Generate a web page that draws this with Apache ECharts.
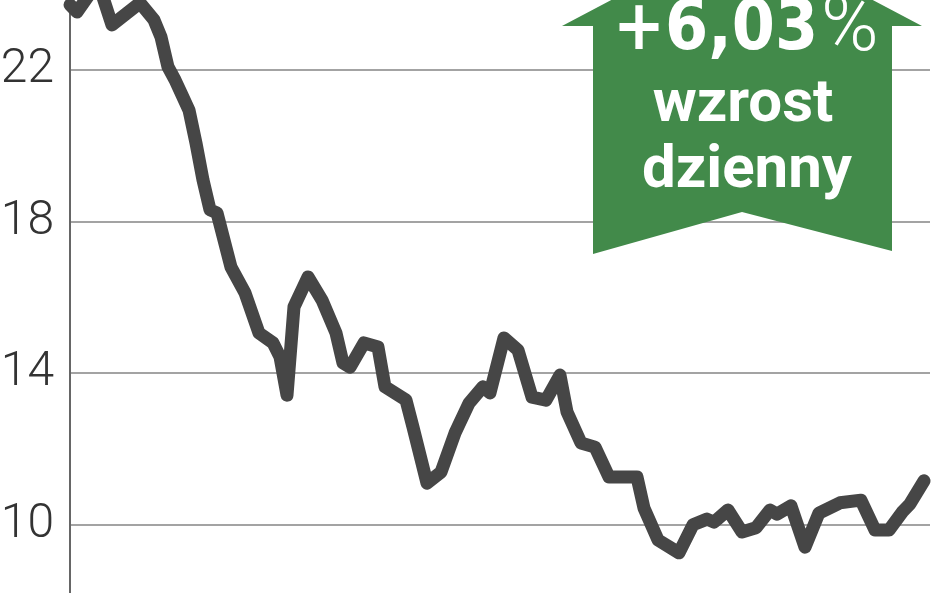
<!DOCTYPE html>
<html>
<head>
<meta charset="utf-8">
<script src="https://cdn.jsdelivr.net/npm/echarts@6/dist/echarts.min.js"></script>
<style>
  html, body { margin: 0; padding: 0; background: #fff; }
  #chart { width: 948px; height: 593px; }
</style>
</head>
<body>
<div id="chart"></div>
<script>
// trading session index (hidden x axis) and closing price
var sessions = [0, 1, 4, 6, 10, 12, 13, 14, 15, 16, 17, 18, 19, 20, 21, 23, 25, 27, 29, 30,
  31, 32, 34, 36, 38, 39, 40, 42, 44, 45, 48, 49, 51, 53, 55, 57, 59, 60, 62, 64,
  66, 68, 70, 71, 73, 75, 77, 81, 82, 84, 87, 89, 91, 92, 94, 96, 98, 100, 101, 103,
  105, 107, 110, 113, 115, 117, 119, 120, 122];
var prices = [23.72, 23.53, 24.32, 23.19, 23.77, 23.32, 22.87, 22.08, 21.74, 21.34, 20.94, 20.07, 19.10, 18.31, 18.23, 16.80, 16.12, 15.06, 14.80, 14.43,
  13.42, 15.75, 16.54, 15.93, 15.06, 14.27, 14.16, 14.80, 14.69, 13.64, 13.29, 12.58, 11.10, 11.39, 12.42, 13.21, 13.64, 13.48, 14.93, 14.61,
  13.37, 13.29, 13.95, 12.98, 12.16, 12.05, 11.26, 11.26, 10.44, 9.60, 9.26, 10.00, 10.15, 10.07, 10.39, 9.81, 9.92, 10.39, 10.28, 10.50,
  9.41, 10.31, 10.58, 10.65, 9.86, 9.86, 10.36, 10.55, 11.16];
var badgeLines = ['+6,03', '%', 'wzrost', 'dzienny'];

var myChart = echarts.init(document.getElementById('chart'));

var points = sessions.map(function(s, i) {
  return [s, prices[i]];
});

var option = {
  backgroundColor: '#ffffff',
  animation: false,
  grid: {
    left: 70,
    right: 18,
    top: -81.6,
    bottom: -83.4,
    containLabel: false,
    outerBoundsMode: 'none'
  },
  xAxis: {
    type: 'value',
    min: 0,
    max: 122.86,
    show: false
  },
  yAxis: {
    type: 'value',
    min: 6,
    max: 26,
    interval: 4,
    axisLine: {
      show: true,
      lineStyle: { color: '#666666', width: 2 }
    },
    axisTick: { show: false },
    axisLabel: {
      margin: 16,
      color: '#333333',
      fontFamily: 'Roboto',
      fontWeight: 300,
      fontSize: 48
    },
    splitLine: {
      lineStyle: { color: '#a3a3a3', width: 2 }
    }
  },
  series: [{
    type: 'line',
    data: points,
    symbol: 'none',
    lineStyle: {
      color: '#464646',
      width: 13,
      cap: 'round',
      join: 'round'
    }
  }],
  graphic: [{
    type: 'polygon',
    z: 100,
    shape: {
      points: [[742, -69], [922, 26], [892, 26], [892, 251], [742, 212], [593, 254], [593, 26], [562, 26]]
    },
    style: { fill: '#428a4a' }
  }, {
    // big daily change figure
    type: 'text',
    z: 101,
    x: 613,
    y: 31,
    style: {
      text: badgeLines[0],
      fill: '#ffffff',
      fontFamily: '"DejaVu Sans Condensed", "DejaVu Sans", sans-serif',
      fontWeight: 'bold',
      fontSize: 69,
      align: 'left',
      verticalAlign: 'middle'
    }
  }, {
    type: 'text',
    z: 101,
    x: 821,
    y: 30,
    style: {
      text: badgeLines[1],
      fill: '#ffffff',
      fontFamily: 'Roboto',
      fontWeight: 300,
      fontSize: 78,
      align: 'left',
      verticalAlign: 'middle'
    }
  }, {
    type: 'text',
    z: 101,
    x: 743,
    y: 106,
    style: {
      text: badgeLines[2],
      fill: '#ffffff',
      fontFamily: 'Roboto',
      fontWeight: 'bold',
      fontSize: 60,
      align: 'center',
      verticalAlign: 'middle'
    }
  }, {
    type: 'text',
    z: 101,
    x: 747,
    y: 172,
    style: {
      text: badgeLines[3],
      fill: '#ffffff',
      fontFamily: 'Roboto',
      fontWeight: 'bold',
      fontSize: 60,
      align: 'center',
      verticalAlign: 'middle'
    }
  }]
};

myChart.setOption(option);
</script>
</body>
</html>
